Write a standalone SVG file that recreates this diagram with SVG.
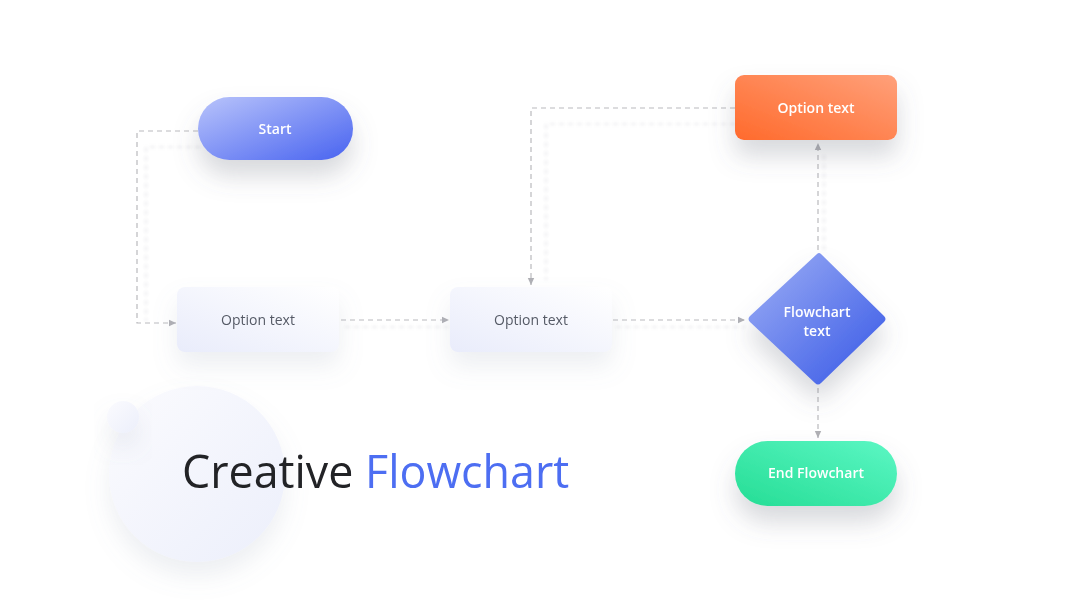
<svg xmlns="http://www.w3.org/2000/svg" width="1080" height="608" viewBox="0 0 1080 608">
<defs>
<style>
.t{font-family:"Open Sans","Noto Sans","Liberation Sans",sans-serif;font-size:14px;text-anchor:middle}
.w{fill:#ffffff;font-weight:600}
.g{fill:#555a66}
.c{fill:none;stroke:#b9b9bd;stroke-width:1.2;stroke-dasharray:5 4}
.cs{fill:none;stroke:#d0d0d4;stroke-width:3;stroke-dasharray:5 4;opacity:0.25}
</style>
<linearGradient id="gBlue" x1="0" y1="0" x2="1" y2="1">
<stop offset="0" stop-color="#b9c4fb"/><stop offset="1" stop-color="#4863f0"/>
</linearGradient>
<linearGradient id="gDia" x1="0" y1="0" x2="1" y2="1">
<stop offset="0" stop-color="#9fb0f5"/><stop offset="1" stop-color="#3556e6"/>
</linearGradient>
<linearGradient id="gOr" x1="0" y1="1" x2="1" y2="0">
<stop offset="0" stop-color="#ff6a2c"/><stop offset="1" stop-color="#ffa07a"/>
</linearGradient>
<linearGradient id="gGr" x1="0" y1="1" x2="1" y2="0">
<stop offset="0" stop-color="#25dd95"/><stop offset="1" stop-color="#5cf7c4"/>
</linearGradient>
<linearGradient id="gOpt" x1="0" y1="1" x2="1" y2="0">
<stop offset="0" stop-color="#e9ecfb"/><stop offset="1" stop-color="#ffffff"/>
</linearGradient>
<linearGradient id="gCir" x1="0" y1="0" x2="1" y2="1">
<stop offset="0" stop-color="#fbfbfe"/><stop offset="1" stop-color="#eceffb"/>
</linearGradient>
<filter id="sh" x="-40%" y="-40%" width="180%" height="240%">
<feDropShadow dx="0" dy="16" stdDeviation="12" flood-color="#606878" flood-opacity="0.25"/>
</filter>
<filter id="shl" x="-40%" y="-40%" width="180%" height="240%">
<feDropShadow dx="0" dy="14" stdDeviation="12" flood-color="#8890a8" flood-opacity="0.15"/>
</filter>
<filter id="blur" x="-10%" y="-10%" width="120%" height="120%">
<feGaussianBlur stdDeviation="1.5"/>
</filter>
<marker id="ar" markerWidth="8" markerHeight="8" refX="7" refY="4" orient="auto" markerUnits="userSpaceOnUse">
<path d="M0,0.8 L7,4 L0,7.2 Z" fill="#b0b0b5"/>
</marker>
</defs>
<rect width="1080" height="608" fill="#ffffff"/>

<g id="decor">
<circle cx="197" cy="474" r="88" fill="url(#gCir)" filter="url(#shl)"/>
<circle cx="123" cy="417" r="16" fill="url(#gCir)" filter="url(#shl)"/>
</g>

<g id="connectors">
<g filter="url(#blur)">
<path class="cs" d="M200,147 H146 V321"/>
<path class="cs" d="M345,327 H448"/>
<path class="cs" d="M616,327 H745"/>
<path class="cs" d="M824,250 V152"/>
<path class="cs" d="M735,124 H546 V280"/>
</g>
<path class="c" d="M198,131 H137 V323 H176" marker-end="url(#ar)"/>
<path class="c" d="M341,320 H449" marker-end="url(#ar)"/>
<path class="c" d="M613,320 H745" marker-end="url(#ar)"/>
<path class="c" d="M818,250 V143" marker-end="url(#ar)"/>
<path class="c" d="M735,108 H531 V285" marker-end="url(#ar)"/>
<path class="c" d="M818,388 V438" marker-end="url(#ar)"/>
</g>

<g id="start">
<rect x="198" y="97" width="155" height="63" rx="31.5" fill="url(#gBlue)" filter="url(#sh)"/>
<text class="t w" x="275" y="133.5">Start</text>
</g>

<g id="opt1">
<rect x="177" y="287" width="162" height="65" rx="8" fill="url(#gOpt)" filter="url(#shl)"/>
<text class="t g" x="258" y="325">Option text</text>
</g>

<g id="opt2">
<rect x="450" y="287" width="162" height="65" rx="8" fill="url(#gOpt)" filter="url(#shl)"/>
<text class="t g" x="531" y="325">Option text</text>
</g>

<g id="opt3">
<rect x="735" y="75" width="162" height="65" rx="9" fill="url(#gOr)" filter="url(#sh)"/>
<text class="t w" x="816" y="113">Option text</text>
</g>

<g id="decision">
<path d="M817,254 Q819,252 821,254 L884,316 Q887,319 884,322 L821,383 Q818,386 815,383 L750,322 Q747,319 750,316 Z" fill="url(#gDia)" filter="url(#sh)"/>
<text class="t w" x="817" y="317">Flowchart</text>
<text class="t w" x="817" y="336">text</text>
</g>

<g id="end">
<rect x="735" y="441" width="162" height="65" rx="32.5" fill="url(#gGr)" filter="url(#sh)"/>
<text class="t w" x="816" y="478">End Flowchart</text>
</g>

<g id="title">
<text x="182" y="488" font-family="'Open Sans','Noto Sans','Liberation Sans',sans-serif" font-size="44.8" fill="#222326">Creative <tspan fill="#4d6ef2">Flowchart</tspan></text>
</g>
</svg>
